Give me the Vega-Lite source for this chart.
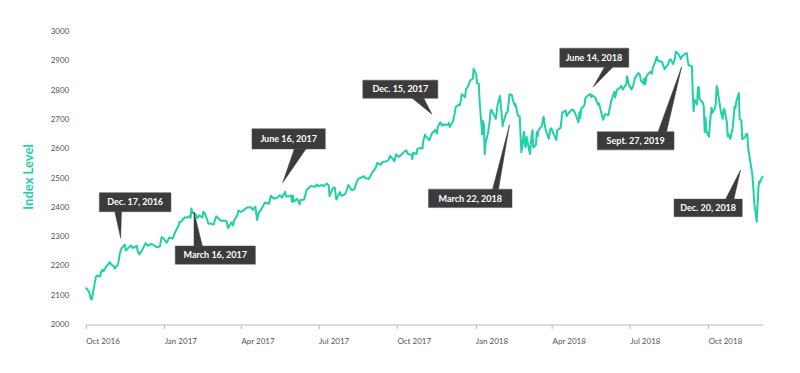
{
  "$schema": "https://vega.github.io/schema/vega-lite/v6.json",
  "width": 677,
  "height": 293,
  "autosize": {"type": "none"},
  "padding": {"left": 85.7, "top": 31.5, "right": 37.3, "bottom": 48.5},
  "background": "white",
  "config": {
    "view": {"stroke": null},
    "font": "Lato",
    "axisY": {"grid": false, "domain": false, "ticks": false, "labelFontSize": 8, "labelColor": "#555555", "labelPadding": 17, "labelOverlap": false, "labelFlush": false, "labelBaseline": "middle", "tickCount": 11},
    "axisX": {"grid": false, "domainColor": "#d0d0d0", "domainWidth": 1.6, "tickColor": "#b0b0b0", "tickSize": 4, "tickWidth": 1, "labelAlign": "left", "labelFontSize": 8, "labelColor": "#555555", "labelPadding": 9, "labelFlush": false, "labelOverlap": false}
  },
  "datasets": {
    "series": [
      {"date": "2016-10-01", "value": 2126}, {"date": "2016-10-05", "value": 2111}, {"date": "2016-10-07", "value": 2088}, {"date": "2016-10-08", "value": 2085},
      {"date": "2016-10-11", "value": 2131}, {"date": "2016-10-13", "value": 2163}, {"date": "2016-10-14", "value": 2167}, {"date": "2016-10-18", "value": 2164},
      {"date": "2016-10-19", "value": 2180}, {"date": "2016-10-21", "value": 2187}, {"date": "2016-10-22", "value": 2182}, {"date": "2016-10-25", "value": 2198},
      {"date": "2016-10-27", "value": 2204}, {"date": "2016-10-29", "value": 2213}, {"date": "2016-11-01", "value": 2202}, {"date": "2016-11-03", "value": 2199},
      {"date": "2016-11-04", "value": 2191}, {"date": "2016-11-08", "value": 2205}, {"date": "2016-11-10", "value": 2241}, {"date": "2016-11-12", "value": 2260},
      {"date": "2016-11-16", "value": 2272}, {"date": "2016-11-17", "value": 2253}, {"date": "2016-11-19", "value": 2258}, {"date": "2016-11-23", "value": 2270},
      {"date": "2016-11-25", "value": 2261}, {"date": "2016-11-30", "value": 2269}, {"date": "2016-12-01", "value": 2250}, {"date": "2016-12-03", "value": 2239},
      {"date": "2016-12-07", "value": 2258}, {"date": "2016-12-10", "value": 2277}, {"date": "2016-12-13", "value": 2269}, {"date": "2016-12-17", "value": 2275},
      {"date": "2016-12-21", "value": 2268}, {"date": "2016-12-23", "value": 2264}, {"date": "2016-12-27", "value": 2266}, {"date": "2016-12-29", "value": 2298},
      {"date": "2016-12-31", "value": 2295}, {"date": "2017-01-04", "value": 2279}, {"date": "2017-01-07", "value": 2297}, {"date": "2017-01-11", "value": 2293},
      {"date": "2017-01-14", "value": 2316}, {"date": "2017-01-18", "value": 2338}, {"date": "2017-01-19", "value": 2350}, {"date": "2017-01-21", "value": 2351},
      {"date": "2017-01-25", "value": 2366}, {"date": "2017-01-27", "value": 2364}, {"date": "2017-01-31", "value": 2370}, {"date": "2017-02-01", "value": 2364},
      {"date": "2017-02-02", "value": 2396}, {"date": "2017-02-03", "value": 2382}, {"date": "2017-02-07", "value": 2376}, {"date": "2017-02-09", "value": 2363},
      {"date": "2017-02-11", "value": 2373}, {"date": "2017-02-15", "value": 2365}, {"date": "2017-02-16", "value": 2385}, {"date": "2017-02-18", "value": 2378},
      {"date": "2017-02-22", "value": 2344}, {"date": "2017-02-24", "value": 2345}, {"date": "2017-02-28", "value": 2341}, {"date": "2017-03-02", "value": 2361},
      {"date": "2017-03-03", "value": 2369}, {"date": "2017-03-07", "value": 2359}, {"date": "2017-03-09", "value": 2353}, {"date": "2017-03-11", "value": 2355},
      {"date": "2017-03-15", "value": 2353}, {"date": "2017-03-17", "value": 2329}, {"date": "2017-03-21", "value": 2349}, {"date": "2017-03-23", "value": 2338},
      {"date": "2017-03-24", "value": 2355}, {"date": "2017-03-28", "value": 2374}, {"date": "2017-03-29", "value": 2389}, {"date": "2017-04-01", "value": 2384},
      {"date": "2017-04-05", "value": 2391}, {"date": "2017-04-08", "value": 2399}, {"date": "2017-04-13", "value": 2400}, {"date": "2017-04-15", "value": 2391},
      {"date": "2017-04-18", "value": 2402}, {"date": "2017-04-20", "value": 2357}, {"date": "2017-04-22", "value": 2382}, {"date": "2017-04-25", "value": 2394},
      {"date": "2017-04-27", "value": 2404}, {"date": "2017-04-29", "value": 2416}, {"date": "2017-05-04", "value": 2412}, {"date": "2017-05-06", "value": 2439},
      {"date": "2017-05-10", "value": 2429}, {"date": "2017-05-13", "value": 2432}, {"date": "2017-05-17", "value": 2441}, {"date": "2017-05-19", "value": 2433},
      {"date": "2017-05-23", "value": 2453}, {"date": "2017-05-24", "value": 2437}, {"date": "2017-05-27", "value": 2438}, {"date": "2017-05-30", "value": 2439},
      {"date": "2017-05-31", "value": 2419}, {"date": "2017-06-01", "value": 2440}, {"date": "2017-06-02", "value": 2419}, {"date": "2017-06-06", "value": 2429},
      {"date": "2017-06-09", "value": 2410}, {"date": "2017-06-10", "value": 2425}, {"date": "2017-06-14", "value": 2426}, {"date": "2017-06-16", "value": 2447},
      {"date": "2017-06-17", "value": 2459}, {"date": "2017-06-22", "value": 2473}, {"date": "2017-06-24", "value": 2472}, {"date": "2017-06-27", "value": 2470},
      {"date": "2017-06-29", "value": 2478}, {"date": "2017-07-01", "value": 2472}, {"date": "2017-07-05", "value": 2476}, {"date": "2017-07-07", "value": 2472},
      {"date": "2017-07-11", "value": 2481}, {"date": "2017-07-13", "value": 2474}, {"date": "2017-07-14", "value": 2438}, {"date": "2017-07-18", "value": 2466},
      {"date": "2017-07-20", "value": 2468}, {"date": "2017-07-22", "value": 2426}, {"date": "2017-07-26", "value": 2452}, {"date": "2017-07-28", "value": 2439},
      {"date": "2017-08-01", "value": 2444}, {"date": "2017-08-03", "value": 2457}, {"date": "2017-08-05", "value": 2476}, {"date": "2017-08-09", "value": 2458},
      {"date": "2017-08-12", "value": 2461}, {"date": "2017-08-15", "value": 2488}, {"date": "2017-08-17", "value": 2498}, {"date": "2017-08-19", "value": 2500},
      {"date": "2017-08-23", "value": 2506}, {"date": "2017-08-25", "value": 2500}, {"date": "2017-08-29", "value": 2497}, {"date": "2017-08-31", "value": 2507},
      {"date": "2017-09-02", "value": 2519}, {"date": "2017-09-06", "value": 2534}, {"date": "2017-09-08", "value": 2552}, {"date": "2017-09-12", "value": 2545},
      {"date": "2017-09-14", "value": 2555}, {"date": "2017-09-19", "value": 2557}, {"date": "2017-09-21", "value": 2561}, {"date": "2017-09-23", "value": 2575},
      {"date": "2017-09-26", "value": 2565}, {"date": "2017-09-28", "value": 2557}, {"date": "2017-09-30", "value": 2581}, {"date": "2017-10-03", "value": 2572},
      {"date": "2017-10-06", "value": 2579}, {"date": "2017-10-10", "value": 2591}, {"date": "2017-10-12", "value": 2594}, {"date": "2017-10-14", "value": 2582},
      {"date": "2017-10-18", "value": 2579}, {"date": "2017-10-19", "value": 2565}, {"date": "2017-10-20", "value": 2586}, {"date": "2017-10-24", "value": 2582},
      {"date": "2017-10-25", "value": 2599}, {"date": "2017-10-28", "value": 2602}, {"date": "2017-10-31", "value": 2601}, {"date": "2017-11-01", "value": 2627},
      {"date": "2017-11-03", "value": 2648}, {"date": "2017-11-04", "value": 2642}, {"date": "2017-11-08", "value": 2629}, {"date": "2017-11-11", "value": 2652},
      {"date": "2017-11-15", "value": 2664}, {"date": "2017-11-17", "value": 2652}, {"date": "2017-11-18", "value": 2675}, {"date": "2017-11-21", "value": 2690},
      {"date": "2017-11-23", "value": 2679}, {"date": "2017-11-25", "value": 2683}, {"date": "2017-11-30", "value": 2682}, {"date": "2017-12-01", "value": 2688},
      {"date": "2017-12-02", "value": 2674}, {"date": "2017-12-06", "value": 2695}, {"date": "2017-12-08", "value": 2724}, {"date": "2017-12-09", "value": 2743},
      {"date": "2017-12-13", "value": 2751}, {"date": "2017-12-14", "value": 2748}, {"date": "2017-12-16", "value": 2786}, {"date": "2017-12-20", "value": 2776},
      {"date": "2017-12-21", "value": 2803}, {"date": "2017-12-23", "value": 2810}, {"date": "2017-12-26", "value": 2833}, {"date": "2017-12-28", "value": 2837},
      {"date": "2017-12-29", "value": 2839}, {"date": "2017-12-30", "value": 2873}, {"date": "2018-01-02", "value": 2853}, {"date": "2018-01-03", "value": 2823},
      {"date": "2018-01-05", "value": 2822}, {"date": "2018-01-06", "value": 2762}, {"date": "2018-01-09", "value": 2649}, {"date": "2018-01-10", "value": 2695},
      {"date": "2018-01-11", "value": 2682}, {"date": "2018-01-12", "value": 2581}, {"date": "2018-01-13", "value": 2620}, {"date": "2018-01-16", "value": 2656},
      {"date": "2018-01-18", "value": 2698}, {"date": "2018-01-19", "value": 2731}, {"date": "2018-01-20", "value": 2732}, {"date": "2018-01-25", "value": 2702},
      {"date": "2018-01-27", "value": 2748}, {"date": "2018-01-30", "value": 2780}, {"date": "2018-01-31", "value": 2744}, {"date": "2018-02-01", "value": 2714},
      {"date": "2018-02-02", "value": 2677}, {"date": "2018-02-03", "value": 2691}, {"date": "2018-02-06", "value": 2720}, {"date": "2018-02-08", "value": 2727},
      {"date": "2018-02-10", "value": 2786}, {"date": "2018-02-13", "value": 2783}, {"date": "2018-02-14", "value": 2766}, {"date": "2018-02-16", "value": 2748},
      {"date": "2018-02-17", "value": 2752}, {"date": "2018-02-20", "value": 2712}, {"date": "2018-02-22", "value": 2711}, {"date": "2018-02-23", "value": 2643},
      {"date": "2018-02-24", "value": 2588}, {"date": "2018-02-27", "value": 2658}, {"date": "2018-02-28", "value": 2612}, {"date": "2018-03-01", "value": 2606},
      {"date": "2018-03-02", "value": 2641}, {"date": "2018-03-06", "value": 2582}, {"date": "2018-03-07", "value": 2614}, {"date": "2018-03-08", "value": 2644},
      {"date": "2018-03-09", "value": 2663}, {"date": "2018-03-10", "value": 2604}, {"date": "2018-03-13", "value": 2613}, {"date": "2018-03-14", "value": 2656},
      {"date": "2018-03-15", "value": 2642}, {"date": "2018-03-16", "value": 2663}, {"date": "2018-03-20", "value": 2678}, {"date": "2018-03-22", "value": 2709},
      {"date": "2018-03-24", "value": 2670}, {"date": "2018-03-28", "value": 2634}, {"date": "2018-03-30", "value": 2667}, {"date": "2018-03-31", "value": 2670},
      {"date": "2018-04-03", "value": 2648}, {"date": "2018-04-05", "value": 2636}, {"date": "2018-04-06", "value": 2630}, {"date": "2018-04-07", "value": 2663},
      {"date": "2018-04-11", "value": 2672}, {"date": "2018-04-13", "value": 2723}, {"date": "2018-04-17", "value": 2730}, {"date": "2018-04-18", "value": 2711},
      {"date": "2018-04-20", "value": 2720}, {"date": "2018-04-24", "value": 2733}, {"date": "2018-04-26", "value": 2733}, {"date": "2018-04-28", "value": 2721},
      {"date": "2018-05-02", "value": 2690}, {"date": "2018-05-03", "value": 2724}, {"date": "2018-05-04", "value": 2705}, {"date": "2018-05-05", "value": 2735},
      {"date": "2018-05-09", "value": 2749}, {"date": "2018-05-10", "value": 2772}, {"date": "2018-05-12", "value": 2779}, {"date": "2018-05-16", "value": 2787},
      {"date": "2018-05-17", "value": 2776}, {"date": "2018-05-18", "value": 2782}, {"date": "2018-05-22", "value": 2774}, {"date": "2018-05-23", "value": 2763},
      {"date": "2018-05-25", "value": 2750}, {"date": "2018-05-26", "value": 2755}, {"date": "2018-05-29", "value": 2718}, {"date": "2018-05-31", "value": 2699},
      {"date": "2018-06-02", "value": 2718}, {"date": "2018-06-06", "value": 2714}, {"date": "2018-06-09", "value": 2760}, {"date": "2018-06-13", "value": 2794},
      {"date": "2018-06-14", "value": 2775}, {"date": "2018-06-16", "value": 2801}, {"date": "2018-06-20", "value": 2809}, {"date": "2018-06-21", "value": 2815},
      {"date": "2018-06-23", "value": 2802}, {"date": "2018-06-27", "value": 2821}, {"date": "2018-06-28", "value": 2847}, {"date": "2018-06-30", "value": 2819},
      {"date": "2018-07-03", "value": 2802}, {"date": "2018-07-05", "value": 2813}, {"date": "2018-07-07", "value": 2840}, {"date": "2018-07-11", "value": 2858},
      {"date": "2018-07-13", "value": 2853}, {"date": "2018-07-14", "value": 2833}, {"date": "2018-07-17", "value": 2822}, {"date": "2018-07-18", "value": 2840},
      {"date": "2018-07-19", "value": 2819}, {"date": "2018-07-21", "value": 2850}, {"date": "2018-07-25", "value": 2862}, {"date": "2018-07-27", "value": 2856},
      {"date": "2018-07-28", "value": 2875}, {"date": "2018-07-31", "value": 2897}, {"date": "2018-08-02", "value": 2914}, {"date": "2018-08-03", "value": 2901},
      {"date": "2018-08-08", "value": 2896}, {"date": "2018-08-10", "value": 2878}, {"date": "2018-08-11", "value": 2872}, {"date": "2018-08-15", "value": 2888},
      {"date": "2018-08-17", "value": 2904}, {"date": "2018-08-18", "value": 2905}, {"date": "2018-08-21", "value": 2889}, {"date": "2018-08-23", "value": 2907},
      {"date": "2018-08-24", "value": 2931}, {"date": "2018-08-25", "value": 2930}, {"date": "2018-08-28", "value": 2919}, {"date": "2018-08-30", "value": 2906},
      {"date": "2018-08-31", "value": 2914}, {"date": "2018-09-04", "value": 2924}, {"date": "2018-09-06", "value": 2926}, {"date": "2018-09-07", "value": 2902},
      {"date": "2018-09-08", "value": 2885}, {"date": "2018-09-12", "value": 2881}, {"date": "2018-09-13", "value": 2786}, {"date": "2018-09-14", "value": 2728},
      {"date": "2018-09-15", "value": 2767}, {"date": "2018-09-18", "value": 2751}, {"date": "2018-09-19", "value": 2809}, {"date": "2018-09-20", "value": 2810},
      {"date": "2018-09-21", "value": 2769}, {"date": "2018-09-25", "value": 2756}, {"date": "2018-09-26", "value": 2741}, {"date": "2018-09-27", "value": 2657},
      {"date": "2018-09-28", "value": 2706}, {"date": "2018-09-29", "value": 2659}, {"date": "2018-10-02", "value": 2641}, {"date": "2018-10-03", "value": 2682},
      {"date": "2018-10-04", "value": 2712}, {"date": "2018-10-05", "value": 2740}, {"date": "2018-10-06", "value": 2723}, {"date": "2018-10-09", "value": 2738},
      {"date": "2018-10-10", "value": 2756}, {"date": "2018-10-11", "value": 2814}, {"date": "2018-10-12", "value": 2806}, {"date": "2018-10-13", "value": 2781},
      {"date": "2018-10-16", "value": 2726}, {"date": "2018-10-18", "value": 2702}, {"date": "2018-10-19", "value": 2731}, {"date": "2018-10-20", "value": 2736},
      {"date": "2018-10-23", "value": 2690}, {"date": "2018-10-24", "value": 2642}, {"date": "2018-10-25", "value": 2650}, {"date": "2018-10-27", "value": 2633},
      {"date": "2018-10-30", "value": 2674}, {"date": "2018-11-01", "value": 2744}, {"date": "2018-11-02", "value": 2738}, {"date": "2018-11-03", "value": 2760},
      {"date": "2018-11-06", "value": 2790}, {"date": "2018-11-07", "value": 2701}, {"date": "2018-11-09", "value": 2696}, {"date": "2018-11-10", "value": 2633},
      {"date": "2018-11-13", "value": 2638}, {"date": "2018-11-15", "value": 2651}, {"date": "2018-11-16", "value": 2650}, {"date": "2018-11-17", "value": 2600},
      {"date": "2018-11-20", "value": 2546}, {"date": "2018-11-22", "value": 2507}, {"date": "2018-11-23", "value": 2467}, {"date": "2018-11-24", "value": 2417},
      {"date": "2018-11-27", "value": 2351}, {"date": "2018-11-29", "value": 2468}, {"date": "2018-11-30", "value": 2489}, {"date": "2018-12-01", "value": 2486},
      {"date": "2018-12-04", "value": 2507}
    ],
    "boxes": [
      {"label": "Dec. 17, 2016", "start": "2016-10-17", "end": "2017-01-09", "low": 2385, "high": 2450, "mid": "2016-11-28", "midValue": 2417},
      {"label": "March 16, 2017", "start": "2017-01-14", "end": "2017-04-18", "low": 2206, "high": 2268, "mid": "2017-03-02", "midValue": 2237},
      {"label": "June 16, 2017", "start": "2017-04-14", "end": "2017-07-09", "low": 2599, "high": 2668, "mid": "2017-05-27", "midValue": 2633},
      {"label": "Dec. 15, 2017", "start": "2017-08-22", "end": "2017-11-18", "low": 2772, "high": 2834, "mid": "2017-10-05", "midValue": 2803},
      {"label": "March 22, 2018", "start": "2017-11-07", "end": "2018-02-13", "low": 2399, "high": 2462, "mid": "2017-12-26", "midValue": 2430},
      {"label": "June 14, 2018", "start": "2018-04-10", "end": "2018-06-30", "low": 2878, "high": 2943, "mid": "2018-05-20", "midValue": 2910},
      {"label": "Sept. 27, 2019", "start": "2018-05-24", "end": "2018-08-22", "low": 2596, "high": 2658, "mid": "2018-07-08", "midValue": 2627},
      {"label": "Dec. 20, 2018", "start": "2018-08-22", "end": "2018-11-10", "low": 2368, "high": 2428, "mid": "2018-10-01", "midValue": 2398}
    ],
    "pointers": [
      {"id": 1, "k": 1, "date": "2016-11-04", "value": 2388}, {"id": 1, "k": 2, "date": "2016-11-11", "value": 2294}, {"id": 1, "k": 3, "date": "2016-11-12", "value": 2388},
      {"id": 2, "k": 1, "date": "2017-02-05", "value": 2265}, {"id": 2, "k": 2, "date": "2017-02-05", "value": 2385}, {"id": 2, "k": 3, "date": "2017-02-15", "value": 2265},
      {"id": 3, "k": 1, "date": "2017-06-03", "value": 2602}, {"id": 3, "k": 2, "date": "2017-05-20", "value": 2484}, {"id": 3, "k": 3, "date": "2017-06-17", "value": 2602},
      {"id": 4, "k": 1, "date": "2017-10-18", "value": 2775}, {"id": 4, "k": 2, "date": "2017-11-11", "value": 2718}, {"id": 4, "k": 3, "date": "2017-11-01", "value": 2775},
      {"id": 5, "k": 1, "date": "2018-01-21", "value": 2459}, {"id": 5, "k": 2, "date": "2018-02-10", "value": 2681}, {"id": 5, "k": 3, "date": "2018-01-28", "value": 2459},
      {"id": 6, "k": 1, "date": "2018-06-02", "value": 2881}, {"id": 6, "k": 2, "date": "2018-05-19", "value": 2810}, {"id": 6, "k": 3, "date": "2018-06-12", "value": 2881},
      {"id": 7, "k": 1, "date": "2018-08-03", "value": 2655}, {"id": 7, "k": 2, "date": "2018-08-31", "value": 2880}, {"id": 7, "k": 3, "date": "2018-08-13", "value": 2655},
      {"id": 8, "k": 1, "date": "2018-10-21", "value": 2425}, {"id": 8, "k": 2, "date": "2018-11-08", "value": 2527}, {"id": 8, "k": 3, "date": "2018-10-31", "value": 2425}
    ]
  },
  "layer": [
    {
      "data": {"name": "series"},
      "mark": {"type": "line", "color": "#1fd1a5", "strokeWidth": 2, "strokeJoin": "round"},
      "encoding": {
        "x": {
          "field": "date", "type": "temporal",
          "scale": {"type": "utc", "domain": [{"year": 2016, "month": 10, "date": 1, "utc": true}, {"year": 2018, "month": 12, "date": 4, "utc": true}]},
          "axis": {
            "title": null,
            "format": "%b %Y",
            "values": [
              {"year": 2016, "month": 10, "date": 1, "utc": true}, {"year": 2017, "month": 1, "date": 1, "utc": true},
              {"year": 2017, "month": 4, "date": 1, "utc": true}, {"year": 2017, "month": 7, "date": 1, "utc": true},
              {"year": 2017, "month": 10, "date": 1, "utc": true}, {"year": 2018, "month": 1, "date": 1, "utc": true},
              {"year": 2018, "month": 4, "date": 1, "utc": true}, {"year": 2018, "month": 7, "date": 1, "utc": true},
              {"year": 2018, "month": 10, "date": 1, "utc": true}
            ]
          }
        },
        "y": {
          "field": "value", "type": "quantitative",
          "scale": {"domain": [2000, 3000], "nice": false, "zero": false},
          "axis": {
            "title": "Index Level",
            "format": "d",
            "values": [2000, 2100, 2200, 2300, 2400, 2500, 2600, 2700, 2800, 2900, 3000],
            "titleColor": "#1fd1a5", "titleFontSize": 13, "titleFontWeight": "bold",
            "titleX": -57, "titleY": 145, "titleAngle": -90, "titleAlign": "center", "titleBaseline": "middle"
          }
        }
      }
    },
    {
      "data": {"name": "pointers"},
      "mark": {"type": "line", "fill": "#3b3b3b", "stroke": "#3b3b3b", "strokeWidth": 0.5, "interpolate": "linear-closed"},
      "encoding": {
        "x": {"field": "date", "type": "temporal"},
        "y": {"field": "value", "type": "quantitative"},
        "detail": {"field": "id"},
        "order": {"field": "k"}
      }
    },
    {
      "data": {"name": "boxes"},
      "mark": {"type": "rect", "color": "#3b3b3b", "stroke": "#555555", "strokeWidth": 0.5},
      "encoding": {
        "x": {"field": "start", "type": "temporal"},
        "x2": {"field": "end"},
        "y": {"field": "low", "type": "quantitative"},
        "y2": {"field": "high"}
      }
    },
    {
      "data": {"name": "boxes"},
      "mark": {"type": "text", "color": "white", "fontWeight": "bold", "fontSize": 9, "align": "center", "baseline": "middle"},
      "encoding": {
        "x": {"field": "mid", "type": "temporal"},
        "y": {"field": "midValue", "type": "quantitative"},
        "text": {"field": "label"}
      }
    }
  ]
}
